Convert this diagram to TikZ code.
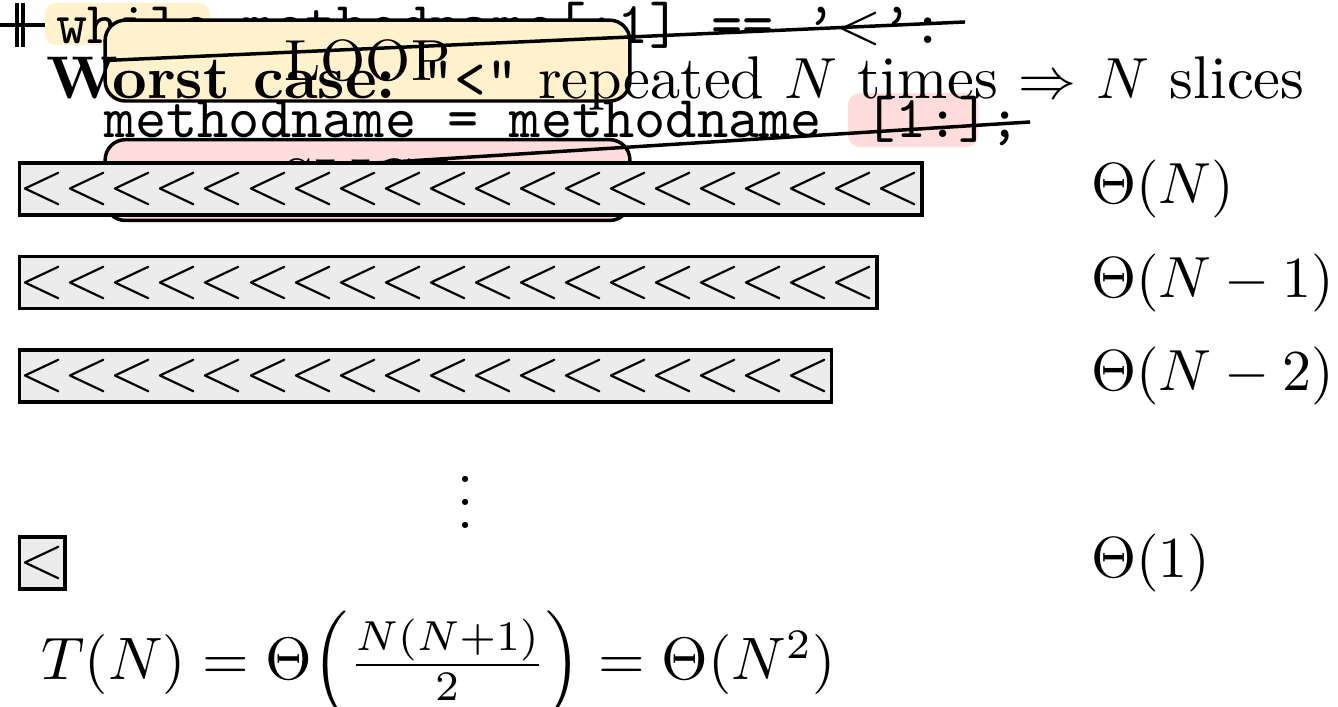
\documentclass[tikz,border=0pt]{standalone}
\definecolor{loopfill}{HTML}{FFF2CC}
\definecolor{slicefill}{HTML}{FFDDDD}
\newcommand{\lessrun}[1]{\foreach \k in {1,...,#1}{$<$}}
\begin{document}
\begin{tikzpicture}[
          code/.style={anchor=base west, inner sep=0pt, font=\fontsize{10.25}{12}\selectfont\ttfamily},
          tag/.style={draw, semithick, rounded corners=3.5pt, minimum width=3.18cm, minimum height=0.48cm},
          bar/.style={draw, semithick, fill=gray!15, anchor=west, inner xsep=0pt, inner ysep=0pt, minimum height=0.315cm},
          cost/.style={anchor=west, inner sep=0pt}]
        \useasboundingbox (0,0) rectangle (8.108,-4.284);
        % stray mark in the corner
        \draw[semithick] (0,-0.152) -- (0.273,-0.152);
        \draw[semithick] (0.103,-0.018) -- (0.103,-0.285);
        \draw[semithick] (0.139,-0.018) -- (0.139,-0.285);
        % highlights behind the code
        \fill[loopfill, rounded corners=2pt] (0.273,-0.018) rectangle (1.273,-0.273);
        \fill[slicefill, rounded corners=2pt] (5.139,-0.564) rectangle (5.927,-0.891);
        \node[code] (cond) at (0.333,-0.261) {while methodname[:1] == ’\rmfamily$<$\ttfamily’:};
        \node[tag, fill=loopfill] (loop) at (2.227,-0.367) {LOOP};
        \coordinate (loopend) at (5.848,-0.133);
        \draw[semithick] (loop.west) -- (loopend);
        \node[anchor=base west, inner sep=0pt, font=\fontsize{10.4}{12.5}\selectfont] (worst) at (0.275,-0.594)
          {\textbf{Worst case:} \texttt{"<"} repeated $N$ times $\Rightarrow$ $N$ slices};
        \node[code] (body) at (0.624,-0.836) {methodname = methodname\ \hspace{2pt}[1:];};
        \node[tag, fill=slicefill] (slice) at (2.227,-1.091) {SLICE};
        \coordinate (sliceend) at (6.242,-0.739);
        \draw[semithick] (slice.west) -- (sliceend);
        % remaining strings, one per iteration
        \node[bar] (s0) at (0.109,-1.145) {\lessrun{20}};
        \node[bar] (s1) at (0.109,-1.712) {\lessrun{19}};
        \node[bar] (s2) at (0.109,-2.279) {\lessrun{18}};
        \node[bar] (sn) at (0.109,-3.412) {\lessrun{1}};
        \node[cost] (c0) at (6.605,-1.145) {$\Theta(N)$};
        \node[cost] (c1) at (6.605,-1.712) {$\Theta(N-1)$};
        \node[cost] (c2) at (6.605,-2.279) {$\Theta(N-2)$};
        \node[cost] (cn) at (6.605,-3.412) {$\Theta(1)$};
        \node (dots) at (2.824,-2.94) {$\vdots$};
        \node[anchor=base west, inner sep=0pt, scale=1.033, transform shape] (total) at (0.245,-4.12)
          {$T(N) = \Theta\Big(\frac{N(N+1)}{2}\Big) = \Theta(N^2)$};
      \end{tikzpicture}
\end{document}
